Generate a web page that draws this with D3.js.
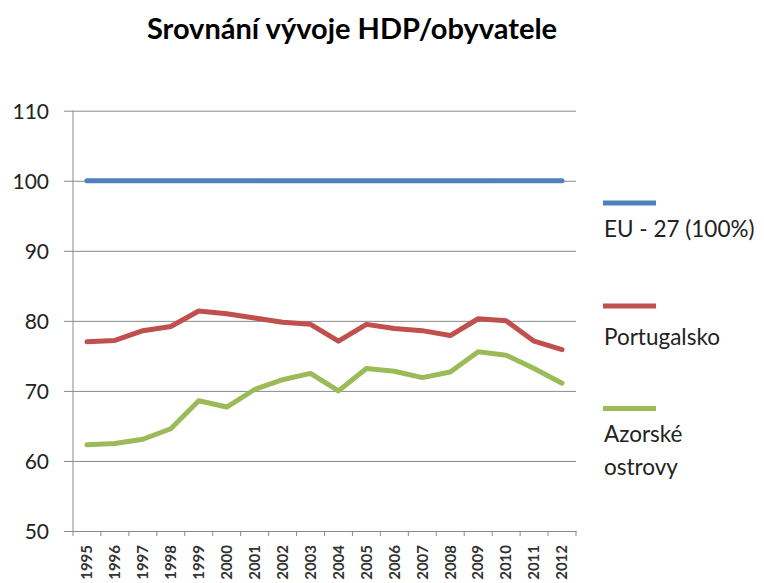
<!DOCTYPE html>
<html>
<head>
<meta charset="utf-8">
<script src="https://cdn.jsdelivr.net/npm/d3@7"></script>
<style>
  body { margin: 0; background: #fff; }
  text { font-family: "Lato", "Open Sans", sans-serif; fill: #222; }
</style>
</head>
<body>
<svg id="chart" width="764" height="583"></svg>
<script>
// data
var years = ["1995","1996","1997","1998","1999","2000","2001","2002","2003","2004","2005","2006","2007","2008","2009","2010","2011","2012"];
var eu27 = [100,100,100,100,100,100,100,100,100,100,100,100,100,100,100,100,100,100];
var portugalsko = [77.0,77.2,78.6,79.2,81.4,81.0,80.4,79.8,79.5,77.1,79.5,78.9,78.6,77.9,80.3,80.0,77.1,75.9];
var azory = [62.3,62.5,63.1,64.6,68.6,67.7,70.2,71.6,72.5,70.0,73.2,72.8,71.9,72.7,75.6,75.1,73.2,71.1];
var yTicks = [50,60,70,80,90,100,110];

var series = [
    { name: "EU - 27 (100%)", lines: ["EU - 27 (100%)"], values: eu27, color: "#4F81BD" },
    { name: "Portugalsko", lines: ["Portugalsko"], values: portugalsko, color: "#C0504D" },
    { name: "Azorské ostrovy", lines: ["Azorské", "ostrovy"], values: azory, color: "#9BBB59" }
];

var svg = d3.select("#chart");

var plotLeft = 73, plotRight = 576, plotTop = 110.7, plotBottom = 531;

var x = d3.scaleBand().domain(years).range([plotLeft, plotRight]);
var y = d3.scaleLinear().domain([50, 110]).range([plotBottom, plotTop]);

//title
svg.append("text")
    .attr("x", 352)
    .attr("y", 39)
    .attr("text-anchor", "middle")
    .style("font-size", "29px")
    .style("font-weight", "bold")
    .style("fill", "#000")
    .text("Srovnání vývoje HDP/obyvatele");

//grid + y axis
var yAxis = d3.axisLeft(y).tickValues(yTicks).tickSize(-(plotRight - plotLeft)).tickPadding(0);
var gy = svg.append("g").attr("transform", "translate(" + plotLeft + ",0)").call(yAxis);
gy.select(".domain").remove();
gy.selectAll(".tick line").attr("stroke", "#8a8a8a").attr("x1", -9);
gy.selectAll(".tick text")
    .attr("x", -24)
    .style("font-size", "21px")
    .style("fill", "#222")
    .attr("dy", "0.36em");

svg.append("line")
    .attr("x1", plotLeft).attr("x2", plotLeft)
    .attr("y1", plotTop).attr("y2", plotBottom)
    .attr("stroke", "#8a8a8a");

//x axis
var xAxis = d3.axisBottom(x).tickSize(0).tickPadding(0);
var gx = svg.append("g").attr("transform", "translate(0," + plotBottom + ")").call(xAxis);
gx.select(".domain").attr("stroke", "#8a8a8a");
gx.selectAll(".tick text")
    .attr("transform", "rotate(-90)")
    .attr("x", -14)
    .attr("y", 0)
    .attr("dy", "0.35em")
    .attr("text-anchor", "end")
    .style("font-size", "15px")
    .style("font-weight", "bold")
    .style("fill", "#333");

// little tick marks between categories
svg.append("g").selectAll("line.xt").data(years.concat(["end"])).enter().append("line")
    .attr("class", "xt")
    .attr("x1", function (d, i) { return plotLeft + i * x.step(); })
    .attr("x2", function (d, i) { return plotLeft + i * x.step(); })
    .attr("y1", plotBottom)
    .attr("y2", plotBottom + 5)
    .attr("stroke", "#8a8a8a");

//lines
var line = d3.line()
    .x(function (d, i) { return x(years[i]) + x.bandwidth() / 2; })
    .y(function (d) { return y(d); });

svg.selectAll(".series").data(series).enter().append("path")
    .attr("class", "series")
    .attr("d", function (d) { return line(d.values); })
    .attr("fill", "none")
    .attr("stroke", function (d) { return d.color; })
    .attr("stroke-width", 5)
    .attr("stroke-linejoin", "round")
    .attr("stroke-linecap", "round");

//legend
var legendY = [203, 306, 408.5];
var legendText = [237, 345, 442];
var lg = svg.selectAll(".legend").data(series).enter().append("g")
    .attr("class", "legend");

lg.append("line")
    .attr("x1", 603).attr("x2", 656)
    .attr("y1", function (d, i) { return legendY[i]; })
    .attr("y2", function (d, i) { return legendY[i]; })
    .attr("stroke", function (d) { return d.color; })
    .attr("stroke-width", 5);

lg.each(function (d, k) {
    d3.select(this).selectAll("text").data(d.lines).enter().append("text")
        .attr("x", 604)
        .attr("y", function (t, i) { return legendText[k] + i * 33; })
        .style("font-size", "22.5px")
        .style("fill", "#222")
        .text(function (t) { return t; });
});
</script>
</body>
</html>
